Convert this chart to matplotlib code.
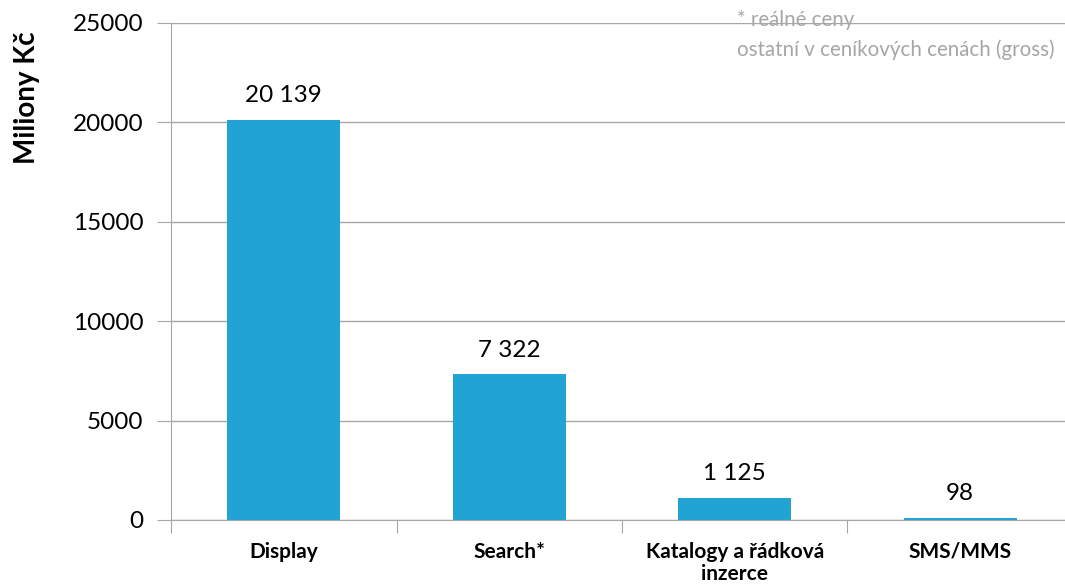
import matplotlib.pyplot as plt
import numpy as np

categories = ["Display", "Search*", "Katalogy a řádková\ninzerce", "SMS/MMS"]
values = [20139, 7322, 1125, 98]
value_labels = ["20 139", "7 322", "1 125", "98"]
yticks = [0, 5000, 10000, 15000, 20000, 25000]

plt.rcParams['font.family'] = ['Lato', 'DejaVu Sans']

fig = plt.figure(figsize=(10.65, 5.85), dpi=100)
ax = fig.add_axes([171 / 1065, 1 - 520 / 585, 902 / 1065, 497 / 585])

x = np.arange(len(categories))
ax.bar(x, values, width=0.5, color='#21A4D3', zorder=3)

for xi, v, lab in zip(x, values, value_labels):
    ax.annotate(lab, (xi, v), textcoords="offset points", xytext=(0, 10),
                ha='center', va='bottom', fontsize=17.5, color='black')

ax.set_xlim(-0.5, len(categories) - 0.5)
ax.set_ylim(0, 25000)
ax.set_yticks(yticks)
ax.set_yticklabels([str(t) for t in yticks], fontsize=17.5, color='black')
ax.yaxis.grid(True, color='#A6A6A6', linewidth=1, zorder=0)
ax.tick_params(axis='y', length=10, color='#A6A6A6', pad=10)

# category labels between boundary ticks
ax.set_xticks(np.arange(len(categories) + 1) - 0.5)
ax.set_xticklabels([])
ax.tick_params(axis='x', length=9, color='#A6A6A6')
for xi, c in zip(x, categories):
    ax.text(xi, -1100, c, ha='center', va='top', fontsize=15, fontweight='bold',
            linespacing=1.15)

for s in ['top', 'right']:
    ax.spines[s].set_visible(False)
ax.spines['left'].set_color('#A6A6A6')
ax.spines['bottom'].set_color('#A6A6A6')

fig.text(27 / 1065, 1 - 98 / 585, "Miliony Kč", rotation=90, ha='center', va='center',
         fontsize=20, fontweight='bold')

fig.text(737 / 1065, 1 - 10 / 585, "* reálné ceny\nostatní v ceníkových cenách (gross)",
         ha='left', va='top', fontsize=14.8, color='#A6A6A6', linespacing=1.55)

fig.savefig("out.png", dpi=100)
